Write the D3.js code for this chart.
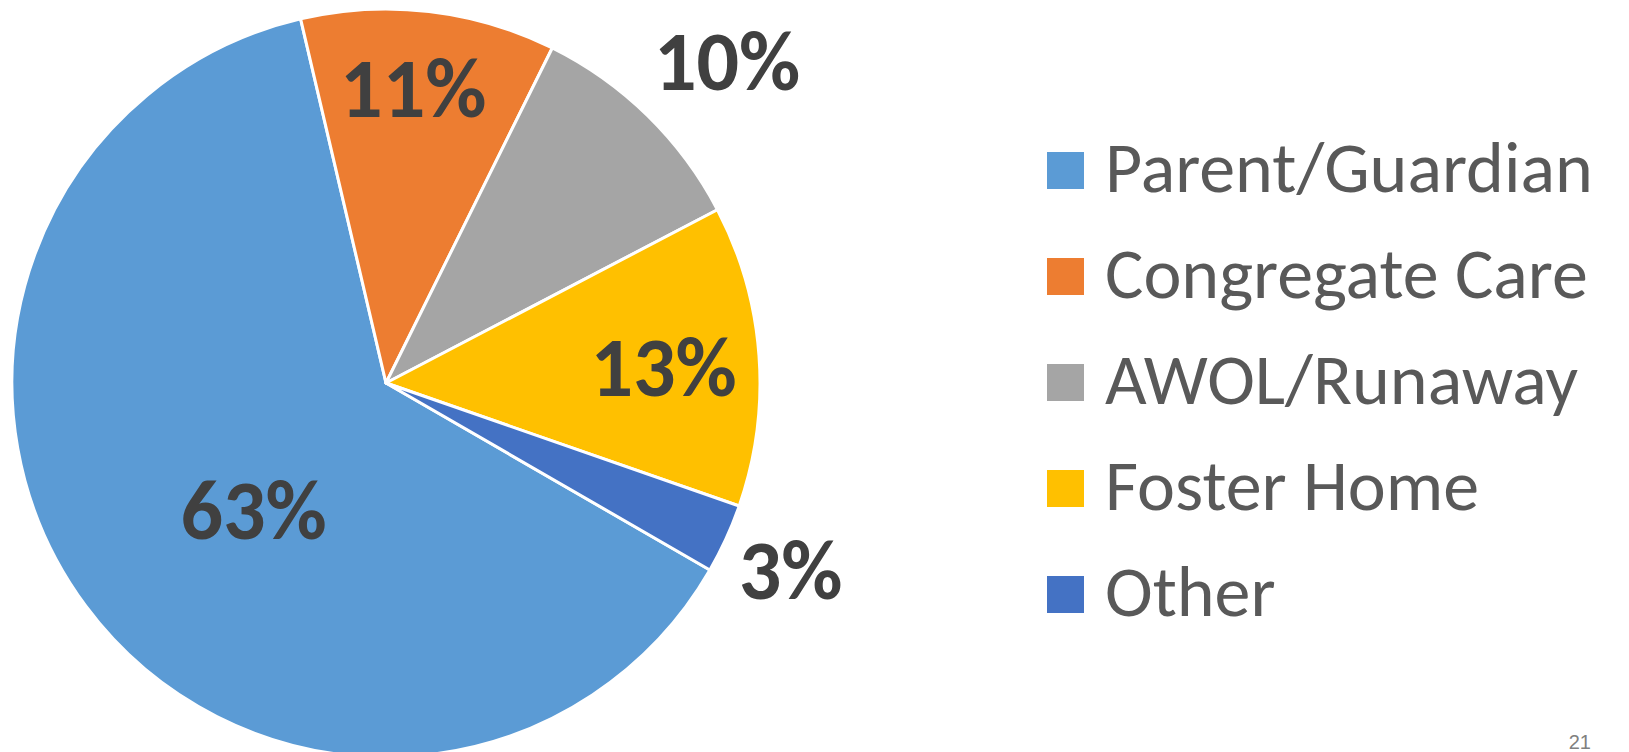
<!DOCTYPE html>
<html>
<head>
<meta charset="utf-8">
<script src="https://cdn.jsdelivr.net/npm/d3@7"></script>
<style>
  html, body { margin: 0; padding: 0; background: #fff; }
  svg { display: block; }
</style>
</head>
<body>
<div id="container"></div>
<script>
const width = 1629;
const height = 752;

// data
const categories = ['Parent/Guardian', 'Congregate Care', 'AWOL/Runaway', 'Foster Home', 'Other'];
const shares = [63, 11, 10, 13, 3];
const colors = ['#5B9BD5', '#ED7D31', '#A5A5A5', '#FFC000', '#4472C4'];
const pageNumber = '21';

// label placement: distance from centre and angle tweak (degrees)
const labelRadius = [184, 295, 468, 278, 446];
const labelTurn = [-7.4, -1.3, 2.4, 1.2, 0.3];

const cx = 386;
const cy = 383;
const radius = 374;
const firstSliceAngle = 120;
const font = "Carlito, Calibri, 'Open Sans', sans-serif";

const svg = d3.select('#container').append('svg')
    .attr('width', width)
    .attr('height', height);

svg.append('rect')
    .attr('width', width)
    .attr('height', height)
    .attr('fill', '#fff');

const pie = d3.pie()
    .sort(null)
    .value(d => d)
    .startAngle(firstSliceAngle * Math.PI / 180)
    .endAngle(firstSliceAngle * Math.PI / 180 + 2 * Math.PI);

const arc = d3.arc()
    .innerRadius(0)
    .outerRadius(radius);

const arcs = pie(shares);

const g = svg.append('g')
    .attr('transform', `translate(${cx},${cy})`);

g.selectAll('path')
    .data(arcs)
    .join('path')
    .attr('d', arc)
    .attr('fill', (d, i) => colors[i])
    .attr('stroke', '#fff')
    .attr('stroke-width', 3)
    .attr('stroke-linejoin', 'round');

g.selectAll('text.label')
    .data(arcs)
    .join('text')
    .attr('class', 'label')
    .attr('transform', (d, i) => {
        const a = (d.startAngle + d.endAngle) / 2 + labelTurn[i] * Math.PI / 180;
        const r = labelRadius[i];
        return `translate(${Math.sin(a) * r},${-Math.cos(a) * r})`;
    })
    .attr('text-anchor', 'middle')
    .attr('dy', '0.33em')
    .attr('font-family', font)
    .attr('font-weight', 'bold')
    .attr('font-size', 84)
    .attr('fill', '#404040')
    .text(d => d.data + '%');

// legend
const legend = svg.append('g')
    .attr('transform', 'translate(1047,152)');

const row = legend.selectAll('g')
    .data(categories)
    .join('g')
    .attr('transform', (d, i) => `translate(0,${i * 106})`);

row.append('rect')
    .attr('width', 37)
    .attr('height', 37)
    .attr('fill', (d, i) => colors[i]);

row.append('text')
    .attr('x', 58)
    .attr('y', 40)
    .attr('font-family', font)
    .attr('font-size', 72)
    .attr('fill', '#595959')
    .text(d => d);

svg.append('text')
    .attr('x', 1591)
    .attr('y', 749)
    .attr('text-anchor', 'end')
    .attr('font-family', "Arial, 'Liberation Sans', sans-serif")
    .attr('font-size', 20)
    .attr('fill', '#808080')
    .text(pageNumber);
</script>
</body>
</html>
